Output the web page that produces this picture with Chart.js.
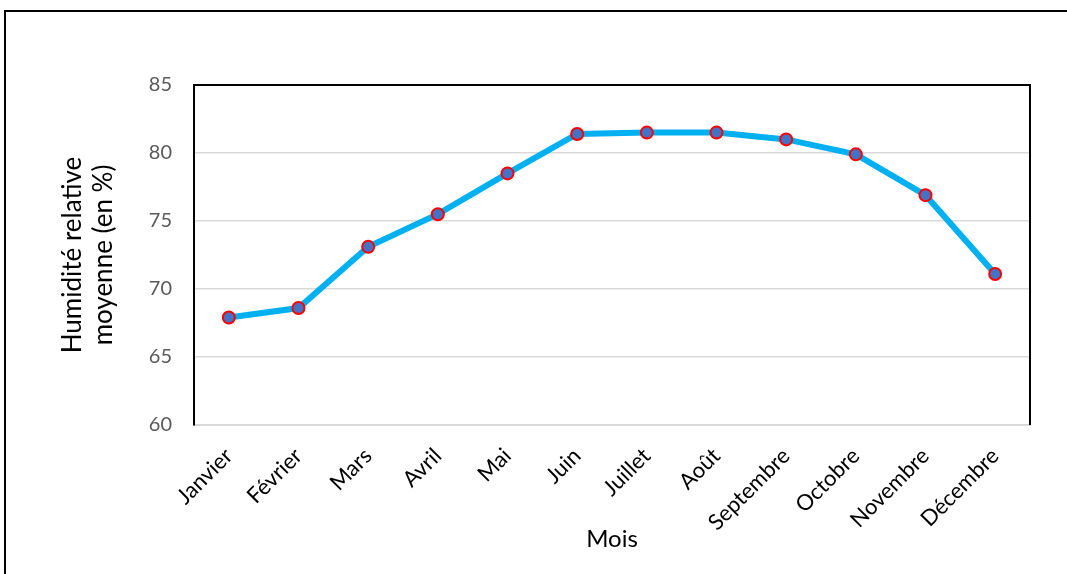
<!DOCTYPE html>
<html lang="fr">
<head>
<meta charset="utf-8">
<title>Humidité relative moyenne par mois</title>
<script src="https://cdn.jsdelivr.net/npm/chart.js@4.4.1/dist/chart.umd.min.js"></script>
<style>
  html, body { margin: 0; padding: 0; background: #ffffff; }
  #wrap { position: relative; width: 1067px; height: 574px; }
  canvas { display: block; }
</style>
</head>
<body>
<div id="wrap"><canvas id="chart" width="1067" height="574"></canvas></div>
<script>
// Mois de l'année (axe des abscisses)
const months = ['Janvier', 'Février', 'Mars', 'Avril', 'Mai', 'Juin',
                'Juillet', 'Août', 'Septembre', 'Octobre', 'Novembre', 'Décembre'];

// Humidité relative moyenne mensuelle (en %)
const humidity = [67.9, 68.6, 73.1, 75.5, 78.5, 81.4, 81.5, 81.5, 81.0, 79.9, 76.9, 71.1];

// Graduations de l'axe des ordonnées
const yTicks = [60, 65, 70, 75, 80, 85];

const yAxisTitle = ['Humidité relative', 'moyenne (en %)'];
const xAxisTitle = 'Mois';

const FONT = 'Lato, "Open Sans", "Liberation Sans", sans-serif';

// Cadre extérieur et bordures haute/droite de la zone de tracé
const framePlugin = {
  id: 'frame',
  beforeDraw(chart) {
    const ctx = chart.ctx;
    ctx.save();
    ctx.fillStyle = '#ffffff';
    ctx.fillRect(0, 0, chart.width, chart.height);
    ctx.strokeStyle = '#000000';
    ctx.lineWidth = 2;
    ctx.beginPath();
    ctx.moveTo(5, chart.height);
    ctx.lineTo(5, 11);
    ctx.lineTo(chart.width, 11);
    ctx.stroke();
    ctx.restore();
  },
  beforeDatasetsDraw(chart) {
    const { ctx, chartArea: a } = chart;
    ctx.save();
    ctx.strokeStyle = '#000000';
    ctx.lineWidth = 2;
    ctx.beginPath();
    ctx.moveTo(a.left, a.top);
    ctx.lineTo(a.right, a.top);
    ctx.lineTo(a.right, a.bottom);
    ctx.stroke();
    ctx.restore();
  }
};

new Chart(document.getElementById('chart'), {
  type: 'line',
  data: {
    labels: months,
    datasets: [{
      data: humidity,
      borderColor: '#00B0F0',
      borderWidth: 6,
      tension: 0,
      pointRadius: 6,
      pointHoverRadius: 6,
      pointBackgroundColor: '#4472C4',
      pointBorderColor: '#FF0000',
      pointBorderWidth: 2,
      clip: false
    }]
  },
  options: {
    responsive: false,
    animation: false,
    devicePixelRatio: 1,
    layout: { padding: { left: 0, top: 85, right: 37, bottom: 0 } },
    plugins: {
      legend: { display: false },
      tooltip: { enabled: false }
    },
    scales: {
      x: {
        type: 'category',
        offset: true,
        grid: { display: false, drawTicks: false },
        border: { display: true, color: '#D9D9D9', width: 2 },
        ticks: {
          color: '#000000',
          font: { family: FONT, size: 22 },
          minRotation: 45,
          maxRotation: 45,
          padding: 18,
          autoSkip: false
        },
        title: {
          display: true,
          text: xAxisTitle,
          color: '#000000',
          font: { family: FONT, size: 24 },
          padding: { top: 0, bottom: 20 }
        },
        afterFit(scale) { scale.height = 149; }
      },
      y: {
        min: yTicks[0],
        max: yTicks[yTicks.length - 1],
        afterBuildTicks(scale) { scale.ticks = yTicks.map(v => ({ value: v })); },
        grid: { color: '#D9D9D9', lineWidth: 1.5, drawTicks: false },
        border: { display: true, color: '#000000', width: 2 },
        ticks: {
          color: '#595959',
          font: { family: FONT, size: 20 },
          padding: 22
        },
        title: {
          display: true,
          text: yAxisTitle,
          color: '#000000',
          font: { family: FONT, size: 26, lineHeight: 1.2 },
          padding: { top: 57, bottom: 0 }
        },
        afterFit(scale) { scale.width = 194; }
      }
    }
  },
  plugins: [framePlugin]
});
</script>
</body>
</html>
